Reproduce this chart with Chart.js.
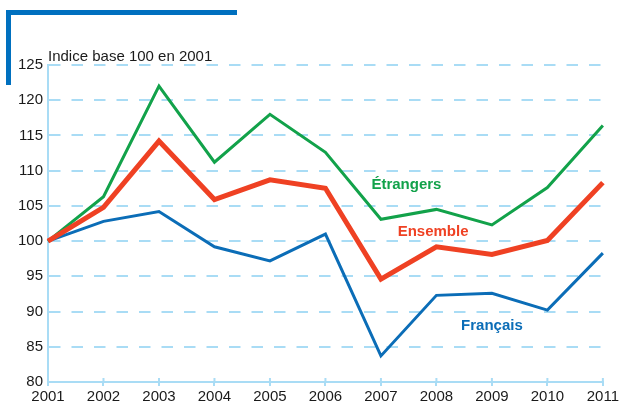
<!DOCTYPE html>
<html>
<head>
<meta charset="utf-8">
<script src="https://cdn.jsdelivr.net/npm/chart.js@4.4.0/dist/chart.umd.min.js"></script>
<style>
  body { margin: 0; background: #fff; }
  #wrap { position: relative; width: 621px; height: 405px; overflow: hidden; }
  .frame { position: absolute; background: #0070bf; }
</style>
</head>
<body>
<div id="wrap">
  <div class="frame" style="left:6px; top:10px; width:231px; height:5px;"></div>
  <div class="frame" style="left:6px; top:10px; width:5px; height:75px;"></div>
  <canvas id="chart"></canvas>
</div>
<script>
// Data
const years = ['2001', '2002', '2003', '2004', '2005', '2006', '2007', '2008', '2009', '2010', '2011'];
const etrangers = [100, 106.3, 122.0, 111.2, 118.0, 112.6, 103.1, 104.5, 102.3, 107.6, 116.4];
const ensemble = [100, 104.8, 114.2, 105.9, 108.7, 107.5, 94.6, 99.2, 98.1, 100.1, 108.3];
const francais = [100, 102.8, 104.2, 99.2, 97.2, 101.0, 83.7, 92.3, 92.6, 90.2, 98.3];
const yTicks = [80, 85, 90, 95, 100, 105, 110, 115, 120, 125];

const gridBlue = '#a9dcf5';
const green = '#12a24a';
const red = '#ef4123';
const blue = '#0b6db7';

// Line labels placed in data coordinates (x = fractional year index)
const lineLabels = [
    { text: 'Étrangers', x: 6.46, y: 108.0, color: green },
    { text: 'Ensemble', x: 6.94, y: 101.3, color: red },
    { text: 'Français', x: 8.0, y: 87.9, color: blue }
];

const extras = {
    id: 'extras',
    afterDraw(chart) {
        const ctx = chart.ctx;
        const xs = chart.scales.x;
        const ys = chart.scales.y;
        const area = chart.chartArea;
        ctx.save();

        // small tick marks above the x axis
        ctx.strokeStyle = gridBlue;
        ctx.lineWidth = 2;
        years.forEach((y, i) => {
            const px = xs.getPixelForValue(i);
            ctx.beginPath();
            ctx.moveTo(px, area.bottom);
            ctx.lineTo(px, area.bottom - 4);
            ctx.stroke();
        });

        // axis title
        ctx.fillStyle = '#1a1a1a';
        ctx.font = '15px "Liberation Sans", Arial, sans-serif';
        ctx.textAlign = 'left';
        ctx.textBaseline = 'alphabetic';
        ctx.fillText('Indice base 100 en 2001', area.left, area.top - 4);

        // series labels
        ctx.font = 'bold 15px "Liberation Sans", Arial, sans-serif';
        ctx.textAlign = 'center';
        ctx.textBaseline = 'middle';
        lineLabels.forEach(l => {
            ctx.fillStyle = l.color;
            ctx.fillText(l.text, xs.getPixelForValue(l.x), ys.getPixelForValue(l.y));
        });
        ctx.restore();
    }
};

new Chart(document.getElementById('chart'), {
    type: 'line',
    data: {
        labels: years,
        datasets: [
            { label: 'Ensemble', data: ensemble, borderColor: red, borderWidth: 5, order: 0 },
            { label: 'Étrangers', data: etrangers, borderColor: green, borderWidth: 3, order: 1 },
            { label: 'Français', data: francais, borderColor: blue, borderWidth: 3, order: 1 }
        ]
    },
    options: {
        responsive: true,
        maintainAspectRatio: false,
        animation: false,
        layout: { padding: { left: 0, right: 17, top: 65, bottom: 0 } },
        elements: {
            point: { radius: 0 },
            line: { tension: 0, borderJoinStyle: 'miter', borderCapStyle: 'butt', fill: false }
        },
        plugins: {
            legend: { display: false },
            tooltip: { enabled: false }
        },
        scales: {
            x: {
                offset: false,
                grid: {
                    display: true,
                    drawOnChartArea: false,
                    drawTicks: true,
                    tickLength: 4,
                    color: gridBlue,
                    lineWidth: 2
                },
                border: { display: true, color: gridBlue, width: 2 },
                ticks: {
                    color: '#1a1a1a',
                    font: { family: '"Liberation Sans", Arial, sans-serif', size: 15 },
                    padding: 2,
                    maxRotation: 0,
                    autoSkip: false
                },
                afterFit(scale) { scale.height = 23; }
            },
            y: {
                min: 80,
                max: 125,
                afterBuildTicks(scale) { scale.ticks = yTicks.map(v => ({ value: v })); },
                grid: {
                    color: gridBlue,
                    lineWidth: 2,
                    drawTicks: false
                },
                border: { display: true, color: gridBlue, width: 2, dash: [11.5, 11] },
                ticks: {
                    color: '#1a1a1a',
                    font: { family: '"Liberation Sans", Arial, sans-serif', size: 15 },
                    padding: 5
                },
                afterFit(scale) { scale.width = 48; }
            }
        }
    },
    plugins: [extras]
});
</script>
</body>
</html>
